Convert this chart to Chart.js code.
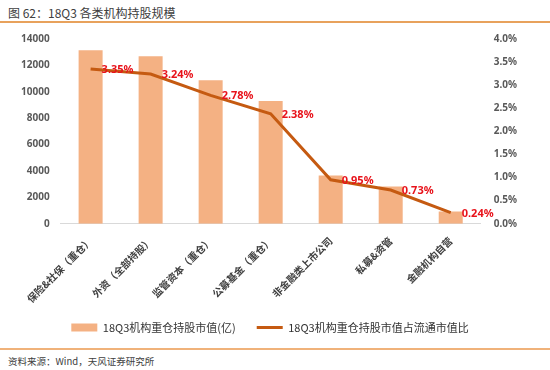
<!DOCTYPE html>
<html>
<head>
<meta charset="utf-8">
<script src="https://cdn.jsdelivr.net/npm/chart.js@4"></script>
<style>
  body { margin: 0; width: 550px; height: 370px; background: #fff; position: relative; overflow: hidden;
         font-family: "Noto Sans CJK SC", "Noto Sans", sans-serif; }
  #title { position: absolute; left: 8px; top: 4px; font-size: 12px; color: #404040; }
  #topline { position: absolute; left: 0; top: 21px; width: 550px; height: 2px; background: #e8a25c; }
  #botline { position: absolute; left: 0; top: 348px; width: 550px; height: 2px; background: #f0b27a; }
  #source { position: absolute; left: 8px; top: 354px; font-size: 9.5px; color: #404040; }
  #wrap { position: absolute; left: 0; top: 24px; width: 550px; height: 323px; }
</style>
</head>
<body>
<div id="title">图 62：18Q3 各类机构持股规模</div>
<div id="topline"></div>
<div id="wrap"><canvas id="chart"></canvas></div>
<div id="botline"></div>
<div id="source">资料来源：Wind，天风证券研究所</div>
<script>
const categories = ['保险&社保（重仓）', '外资（全部持股）', '监管资本（重仓）', '公募基金（重仓）', '非金融类上市公司', '私募&资管', '金融机构自营'];
const marketValue = [13150, 12700, 10880, 9300, 3650, 2820, 920];
const shareOfFloat = [3.35, 3.24, 2.78, 2.38, 0.95, 0.73, 0.24];
const leftTicks = [0, 2000, 4000, 6000, 8000, 10000, 12000, 14000];
const rightTicks = [0, 0.5, 1, 1.5, 2, 2.5, 3, 3.5, 4];

// red value labels to the right of each line point
const labelPlugin = {
    id: 'pctLabels',
    afterDatasetsDraw(chart) {
        const ctx = chart.ctx;
        const meta = chart.getDatasetMeta(1);
        ctx.save();
        ctx.font = 'bold 11px "Noto Sans", sans-serif';
        ctx.fillStyle = '#e8131b';
        ctx.textAlign = 'left';
        ctx.textBaseline = 'middle';
        meta.data.forEach((pt, i) => {
            ctx.fillText(shareOfFloat[i].toFixed(2) + '%', pt.x + 11, pt.y + 1);
        });
        ctx.restore();
    }
};

// keep the wide gap between legend items but pull the legend closer to the axis labels
const LEGEND_PULL = 7;
const legendPull = {
    id: 'legendPull',
    beforeLayout(chart) {
        const lg = chart.legend;
        if (!lg || lg._pulled) return;
        lg._pulled = true;
        const fit = lg.fit;
        lg.fit = function() { fit.call(this); this.height -= LEGEND_PULL; };
    },
    afterLayout(chart) {
        chart.legend.top -= LEGEND_PULL;
    }
};

const tickFont = { size: 10, weight: 'bold', family: '"Noto Sans", sans-serif' };

const ctx = document.getElementById('chart').getContext('2d');
new Chart(ctx, {
    data: {
        labels: categories,
        datasets: [{
            type: 'bar',
            label: '18Q3机构重仓持股市值(亿)',
            data: marketValue,
            backgroundColor: '#f4b183',
            borderWidth: 0,
            categoryPercentage: 0.8,
            barPercentage: 0.5,
            yAxisID: 'y',
            pointStyle: 'rect',
            order: 2
        }, {
            type: 'line',
            label: '18Q3机构重仓持股市值占流通市值比',
            data: shareOfFloat,
            borderColor: '#c55a11',
            backgroundColor: '#c55a11',
            borderWidth: 3,
            pointRadius: 0,
            tension: 0,
            yAxisID: 'y1',
            pointStyle: 'line',
            order: 1
        }]
    },
    options: {
        responsive: true,
        maintainAspectRatio: false,
        animation: false,
        layout: { padding: { left: 18, right: 28, top: 15, bottom: 4 } },
        plugins: {
            legend: {
                position: 'bottom',
                labels: {
                    usePointStyle: true,
                    pointStyleWidth: 26,
                    boxWidth: 26,
                    boxHeight: 8,
                    padding: 21,
                    color: '#333333',
                    font: { size: 11, family: '"Noto Sans CJK SC", sans-serif' },
                    sort: (a, b) => a.datasetIndex - b.datasetIndex
                }
            },
            tooltip: { enabled: false }
        },
        scales: {
            x: {
                grid: { display: false },
                border: { color: '#d9d9d9' },
                ticks: {
                    minRotation: 45, maxRotation: 45,
                    color: '#404040',
                    font: { size: 10, weight: 'bold', family: '"Noto Sans CJK SC", sans-serif' }
                }
            },
            y: {
                position: 'left',
                min: 0, max: 14000,
                afterBuildTicks: axis => { axis.ticks = leftTicks.map(v => ({ value: v })); },
                grid: { display: false },
                border: { display: false },
                ticks: { color: '#595959', padding: 3, font: tickFont, callback: v => String(v) }
            },
            y1: {
                position: 'right',
                min: 0, max: 4,
                afterBuildTicks: axis => { axis.ticks = rightTicks.map(v => ({ value: v })); },
                grid: { display: false },
                border: { display: false },
                ticks: {
                    color: '#595959', padding: 5,
                    font: tickFont,
                    callback: v => v.toFixed(1) + '%'
                }
            }
        }
    },
    plugins: [labelPlugin, legendPull]
});
</script>
</body>
</html>
